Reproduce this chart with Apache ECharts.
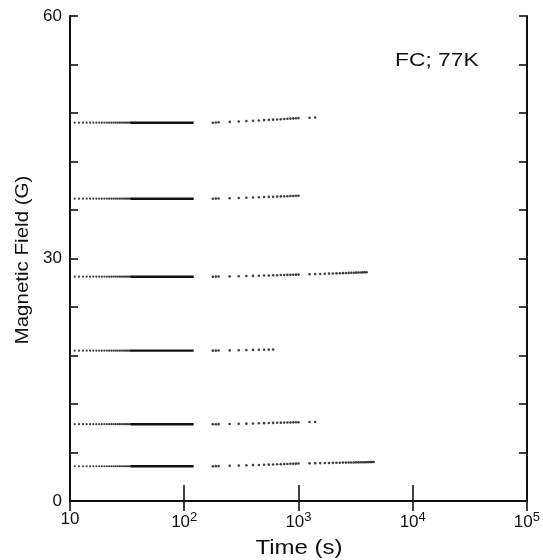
<!DOCTYPE html>
<html>
<head>
<meta charset="utf-8">
<script src="https://cdn.jsdelivr.net/npm/echarts@6/dist/echarts.min.js"></script>
<style>html,body{margin:0;padding:0;background:#fff;}#c{width:543px;height:560px;}</style>
</head>
<body>
<div id="c"></div>
<script>
// ---- data ----
const xTicks = [10, 100, 1000, 10000, 100000];
const yTickLabels = [0, 30, 60];
// early, sparsely sampled part of the first run (s)
const tEarlyDots = [11,12,13,14,15,16,17,18,19,20,21,22,23,24,25,26,27,28,29,30,31,32,33,34];
// dense, solid-looking part of the first run (s)
const tEarlyLine = [34, 121];
// second run, sampled times (s)
const tRunA = [178,189,200,250,300,350,400,450,500,550,600,650,700,750,800,850,900,950,1000];
const tRunB = [1250,1400,1550,1700,1850,2000,2150,2300,2450,2600,2750,2900,3050,3200,3350,3500,3650,3800,3950,4100,4250,4400,4550];

// field level of the first run (G)
const level = [46.8, 37.4, 27.75, 18.6, 9.5, 4.3];
// second run values (G)
const s1A = [46.8,46.82,46.85,46.9,46.95,47.0,47.05,47.08,47.12,47.15,47.18,47.2,47.23,47.26,47.29,47.31,47.33,47.35,47.37];
const s1B = [47.42,47.45];
const s2A = [37.4,37.41,37.43,37.46,37.49,37.52,37.55,37.57,37.6,37.62,37.64,37.66,37.68,37.7,37.71,37.73,37.74,37.76,37.77];
const s2B = [];
const s3A = [27.75,27.76,27.77,27.79,27.81,27.83,27.85,27.87,27.89,27.9,27.92,27.93,27.95,27.96,27.97,27.98,27.99,28.0,28.01];
const s3B = [28.05,28.07,28.09,28.11,28.13,28.15,28.16,28.18,28.19,28.21,28.22,28.23,28.24,28.25,28.26,28.27,28.28,28.29,28.3];
const s4A = [18.6,18.6,18.61,18.63,18.65,18.67,18.69,18.7,18.72,18.73,18.75];
const s4B = [];
const s5A = [9.5,9.5,9.51,9.53,9.55,9.57,9.59,9.61,9.63,9.65,9.66,9.68,9.69,9.7,9.71,9.72,9.73,9.74,9.75];
const s5B = [9.77,9.78];
const s6A = [4.3,4.31,4.32,4.35,4.38,4.41,4.44,4.46,4.48,4.5,4.52,4.54,4.55,4.57,4.58,4.6,4.61,4.62,4.63];
const s6B = [4.66,4.68,4.69,4.7,4.71,4.72,4.73,4.74,4.75,4.75,4.76,4.77,4.77,4.78,4.78,4.79,4.79,4.8,4.8,4.81,4.81,4.82,4.82];
const runA = [s1A, s2A, s3A, s4A, s5A, s6A];
const runB = [s1B, s2B, s3B, s4B, s5B, s6B];

const INK = '#111';
const FONT = 'Liberation Sans, Arial, Helvetica, sans-serif';

const series = [];
level.forEach((v, i) => {
  series.push({
    type: 'scatter', symbol: 'circle', symbolSize: 2.2, silent: true,
    itemStyle: { color: INK },
    data: tEarlyDots.map(t => [t, v])
  });
  series.push({
    type: 'line', symbol: 'none', silent: true,
    lineStyle: { color: INK, width: 2.4 },
    data: tEarlyLine.map(t => [t, v])
  });
  const pts = runA[i].map((y, k) => [tRunA[k], y]).concat(runB[i].map((y, k) => [tRunB[k], y]));
  series.push({
    type: 'scatter', symbol: 'circle', symbolSize: 2.6, silent: true,
    itemStyle: { color: INK },
    data: pts
  });
});

function xLabel(v) {
  const e = Math.round(Math.log10(v));
  if (!xTicks.includes(v)) return '';
  if (e === 1) return '{b|10}';
  return '{b|10}{s|' + e + '}';
}

const chart = echarts.init(document.getElementById('c'), null, { renderer: 'canvas' });
chart.setOption({
  animation: false,
  backgroundColor: '#fff',
  grid: { left: 70, right: 15, top: 16, bottom: 59, containLabel: false },
  xAxis: [{
    type: 'log', logBase: 10, min: 10, max: 100000, position: 'bottom',
    axisLine: { lineStyle: { color: INK, width: 2 } },
    axisTick: { inside: true, length: 16, lineStyle: { color: INK, width: 1.6 } },
    minorTick: { show: false },
    splitLine: { show: false },
    axisLabel: {
      margin: 10, formatter: xLabel,
      rich: {
        b: { fontSize: 17, color: INK, fontFamily: FONT },
        s: { fontSize: 13, color: INK, fontFamily: FONT, padding: [0, 0, 9, 0] }
      }
    }
  }, {
    type: 'log', logBase: 10, min: 10, max: 100000, position: 'top',
    axisLine: { lineStyle: { color: INK, width: 2 } },
    axisTick: { inside: true, length: 10, lineStyle: { color: INK, width: 1.6 } },
    splitLine: { show: false },
    axisLabel: { show: false }
  }],
  yAxis: [{
    type: 'value', min: 0, max: 60, interval: 6, position: 'left',
    axisLine: { lineStyle: { color: INK, width: 2 } },
    axisTick: { inside: true, length: 8, lineStyle: { color: INK, width: 1.6 } },
    splitLine: { show: false },
    axisLabel: {
      margin: 8, color: INK, fontSize: 17, fontFamily: FONT,
      formatter: v => yTickLabels.includes(v) ? String(v) : ''
    }
  }, {
    type: 'value', min: 0, max: 60, interval: 6, position: 'right',
    axisLine: { lineStyle: { color: INK, width: 2 } },
    axisTick: { inside: true, length: 8, lineStyle: { color: INK, width: 1.6 } },
    splitLine: { show: false },
    axisLabel: { show: false }
  }],
  graphic: [{
    type: 'text', x: 395, y: 61, scaleX: 1.2,
    style: { text: 'FC; 77K', fontSize: 19, fill: INK, fontFamily: FONT, textVerticalAlign: 'middle', verticalAlign: 'middle' }
  }, {
    type: 'text', x: 299, y: 548, scaleX: 1.2,
    style: { text: 'Time (s)', fontSize: 20, fill: INK, fontFamily: FONT, align: 'center', verticalAlign: 'middle' }
  }, {
    type: 'text', x: 23, y: 260, rotation: Math.PI / 2, scaleX: 1.08,
    style: { text: 'Magnetic Field (G)', fontSize: 19, fill: INK, fontFamily: FONT, align: 'center', verticalAlign: 'middle' }
  }],
  series: series
});
</script>
</body>
</html>
